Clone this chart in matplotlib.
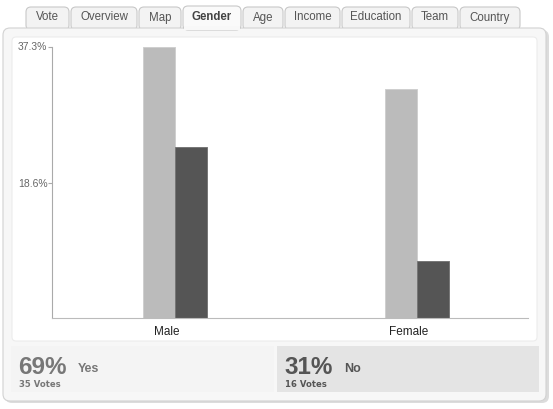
import matplotlib
matplotlib.use("Agg")
import matplotlib.pyplot as plt
from matplotlib.patches import FancyBboxPatch, Rectangle

# ---- data ----
categories = ["Male", "Female"]
yes_values = [37.3, 31.4]   # % of all votes
no_values = [23.5, 7.8]
y_ticks = [18.6, 37.3]
y_tick_labels = ["18.6%", "37.3%"]
tabs = ["Vote", "Overview", "Map", "Gender", "Age", "Income", "Education", "Team", "Country"]
active_tab = "Gender"
summary_pct = ["69%", "31%"]
summary_label = ["Yes", "No"]
summary_votes = ["35 Votes", "16 Votes"]

W, H = 553, 409
fig = plt.figure(figsize=(W / 100, H / 100), dpi=100)
fig.patch.set_facecolor("white")

# background axes in pixel coordinates
bg = fig.add_axes([0, 0, 1, 1])
bg.set_xlim(0, W)
bg.set_ylim(H, 0)
bg.axis("off")

# tabs
tab_x = [(26, 69), (71, 137), (139, 181), (183, 241), (243, 283),
         (285, 340), (342, 410), (412, 458), (460, 520)]
for name, (x0, x1) in zip(tabs, tab_x):
    active = name == active_tab
    top = 6 if active else 7
    p = FancyBboxPatch((x0, top), x1 - x0, 30 - top,
                       boxstyle="round,pad=0,rounding_size=5",
                       fc="#fafafa" if active else "#f3f3f3",
                       ec="#c8c8c8", lw=0.8, zorder=1 if not active else 3)
    bg.add_patch(p)
    bg.text((x0 + x1) / 2, 17.5, name, ha="center", va="center",
            fontsize=8.3, color="#444444" if active else "#555555",
            fontweight="bold" if active else "normal", family="Liberation Sans",
            zorder=4)

# outer frame shadow + frame
bg.add_patch(FancyBboxPatch((5, 30), 544, 373,
                            boxstyle="round,pad=0,rounding_size=7",
                            fc="#dcdcdc", ec="none", zorder=1.5))
bg.add_patch(FancyBboxPatch((3, 28), 543, 373,
                            boxstyle="round,pad=0,rounding_size=7",
                            fc="#f7f7f7", ec="#d2d2d2", lw=0.8, zorder=2))
# active tab overlay to merge with frame
gx0, gx1 = tab_x[tabs.index(active_tab)]
bg.add_patch(Rectangle((gx0 + 0.6, 26), gx1 - gx0 - 1.2, 4, fc="#f8f8f8", ec="none", zorder=3.5))

# inner white panel
bg.add_patch(FancyBboxPatch((12, 37), 525, 304,
                            boxstyle="round,pad=0,rounding_size=4",
                            fc="white", ec="#ececec", lw=0.8, zorder=2.5))

# summary boxes
box_x = [(11, 274), (277, 539)]
box_fc = ["#f4f4f4", "#e4e4e4"]
pct_col = ["#777777", "#555555"]
for i in range(2):
    x0, x1 = box_x[i]
    bg.add_patch(Rectangle((x0, 346), x1 - x0, 46, fc=box_fc[i], ec="none", zorder=2.5))
    bg.text(x0 + 7, 374.5, summary_pct[i], ha="left", va="baseline", fontsize=17.5,
            fontweight="bold", color=pct_col[i], family="Liberation Sans", zorder=4)
    bg.text(x0 + 67, 372.5, summary_label[i], ha="left", va="baseline", fontsize=9,
            fontweight="bold", color=pct_col[i], family="Liberation Sans", zorder=4)
    bg.text(x0 + 8, 384.5, summary_votes[i], ha="left", va="center",
            fontsize=6.1, fontweight="bold", color=pct_col[i], family="DejaVu Sans", zorder=4)

# ---- chart axes ----
ax_left, ax_right, ax_top, ax_bottom = 52, 528, 46.5, 318
ax = fig.add_axes([ax_left / W, (H - ax_bottom) / H,
                   (ax_right - ax_left) / W, (ax_bottom - ax_top) / H])
ax.set_facecolor("none")
ax.set_zorder(5)

x = list(range(len(categories)))
bw = 0.132
label_shift = 0.035
ax.bar([xi - bw / 2 for xi in x], yes_values, width=bw, color="#bbbbbb",
       edgecolor="#cfcfcf", linewidth=0.7)
ax.bar([xi + bw / 2 for xi in x], no_values, width=bw, color="#555555",
       edgecolor="#777777", linewidth=0.7)

ax.set_xlim(-0.507, 1.456)
ax.set_ylim(0, 37.3)
ax.set_yticks(y_ticks)
ax.set_yticklabels(y_tick_labels)
ax.set_xticks([xi - label_shift for xi in x])
ax.set_xticklabels(categories)

for s in ["top", "right"]:
    ax.spines[s].set_visible(False)
ax.spines["left"].set_color("#aaaaaa")
ax.spines["bottom"].set_color("#bbbbbb")
ax.spines["left"].set_linewidth(0.8)
ax.spines["bottom"].set_linewidth(0.8)
ax.tick_params(axis="y", length=3, width=0.8, color="#aaaaaa", labelsize=7.5,
               labelcolor="#666666", pad=0.3)
ax.tick_params(axis="x", length=0, labelsize=8.5, labelcolor="#222222", pad=6)
for t in ax.get_yticklabels() + ax.get_xticklabels():
    t.set_family("Liberation Sans")

fig.savefig("out.png", dpi=100, facecolor="white")
